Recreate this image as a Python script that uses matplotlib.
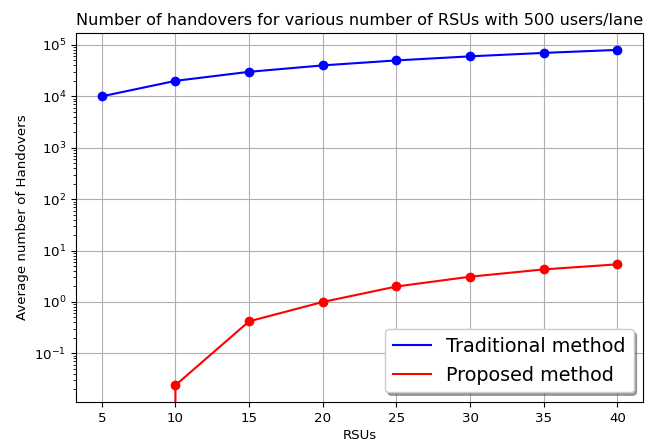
import matplotlib.pyplot as plt

rsus = [5, 10, 15, 20, 25, 30, 35, 40]
traditional = [1e4, 2e4, 3e4, 4e4, 5e4, 6e4, 7e4, 8e4]
proposed = [0, 0.024, 0.42, 1.0, 2.0, 3.1, 4.3, 5.4]

plt.rcParams["font.size"] = 9.6

fig = plt.figure(figsize=(6.55, 4.42), dpi=100)
ax = fig.add_axes([0.116, 0.0905, 0.866, 0.8345])

ax.plot(rsus, traditional, "-", color="blue", label="Traditional method")
ax.plot(rsus, traditional, "o", color="blue")
ax.plot(rsus, proposed, "-", color="red", label="Proposed method")
ax.plot(rsus, proposed, "o", color="red")

ax.set_yscale("log")
ax.set_xlabel("RSUs", labelpad=3)
ax.set_ylabel("Average number of Handovers")
ax.set_title("Number of handovers for various number of RSUs with 500 users/lane", fontsize=11.6)
ax.grid()
ax.legend(loc="lower right", fontsize=13.8, shadow=True)

plt.savefig("out.png")
